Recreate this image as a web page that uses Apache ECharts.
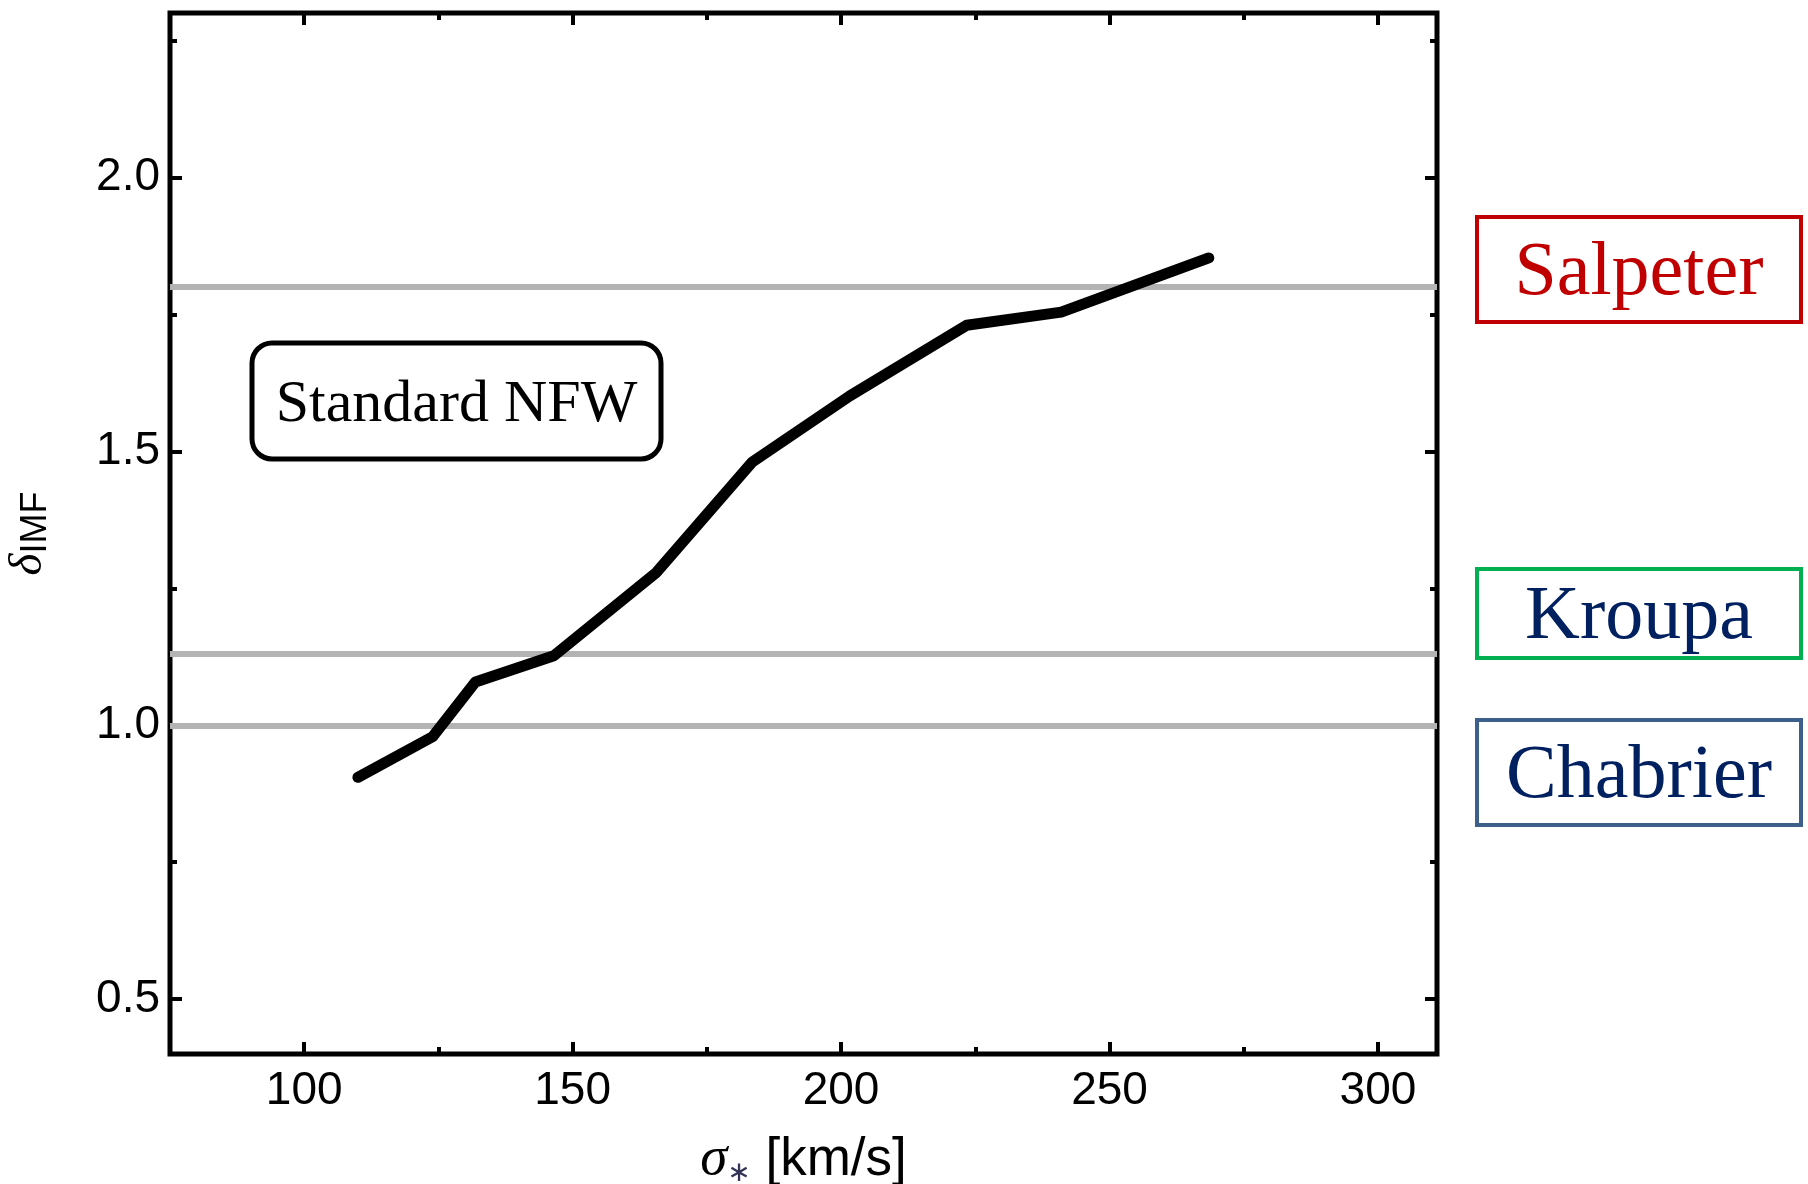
<!DOCTYPE html>
<html>
<head>
<meta charset="utf-8">
<title>IMF mismatch parameter vs velocity dispersion</title>
<script src="https://cdn.jsdelivr.net/npm/echarts@6/dist/echarts.min.js"></script>
<style>
  html, body { margin: 0; padding: 0; background: #fff; }
  #chart { width: 1808px; height: 1184px; }
</style>
</head>
<body>
<div id="chart"></div>
<script>
// Velocity dispersion sigma_* [km/s] and IMF mismatch parameter (standard NFW halo)
const sigmaValues = [110.0, 123.9, 131.9, 146.5, 165.6, 183.4, 201.6, 223.4, 241.0, 268.5];
const deltaValues = [0.905, 0.979, 1.079, 1.127, 1.279, 1.480, 1.601, 1.730, 1.754, 1.853];

// Reference IMF levels
const imfNames  = ['Salpeter', 'Kroupa', 'Chabrier'];
const imfLevels = [1.8, 1.125, 1.0];

// Axis ticks
const xMajorTicks = [100, 150, 200, 250, 300];
const xMinorTicks = [125, 175, 225, 275];
const yMajorTicks = [0.5, 1.0, 1.5, 2.0];
const yMinorTicks = [0.75, 1.25, 1.75, 2.25];

const X_MIN = 75, X_MAX = 311;
const Y_MIN = 0.4, Y_MAX = 2.3;

const chart = echarts.init(document.getElementById('chart'), null, { renderer: 'canvas' });

const tickStyle = { color: '#000', width: 4 };
const labelFont = { fontFamily: 'Liberation Sans', fontSize: 46, color: '#000' };

function xAxisDef(position, ticks, len, withLabels) {
  return {
    type: 'value', position: position, min: X_MIN, max: X_MAX,
    axisLine: { show: false },
    splitLine: { show: false },
    axisTick: { show: true, inside: true, length: len, lineStyle: tickStyle, customValues: ticks },
    axisLabel: withLabels
      ? Object.assign({ show: true, margin: 14, customValues: ticks }, labelFont)
      : { show: false }
  };
}
function yAxisDef(position, ticks, len, withLabels) {
  return {
    type: 'value', position: position, min: Y_MIN, max: Y_MAX,
    axisLine: { show: false },
    splitLine: { show: false },
    axisTick: { show: true, inside: true, length: len, lineStyle: tickStyle, customValues: ticks },
    axisLabel: withLabels
      ? Object.assign({ show: true, margin: 10, customValues: ticks,
          formatter: v => v.toFixed(1) }, labelFont)
      : { show: false }
  };
}

const xBottom = xAxisDef('bottom', xMajorTicks, 12, true);
xBottom.name = '{s|σ}{a|∗}{t| [km/s]}';
xBottom.nameLocation = 'middle';
xBottom.nameGap = 78;
xBottom.nameTextStyle = {
  color: '#000',
  rich: {
    s: { fontFamily: 'Liberation Serif', fontStyle: 'italic', fontSize: 55, lineHeight: 56, color: '#000' },
    a: { fontFamily: 'DejaVu Sans', fontSize: 28, lineHeight: 14, verticalAlign: 'bottom', color: '#333355' },
    t: { fontFamily: 'Liberation Sans', fontSize: 53, lineHeight: 56, color: '#000' }
  }
};

const yLeft = yAxisDef('left', yMajorTicks, 12, true);
yLeft.name = '{d|δ}{s|IMF}';
yLeft.nameLocation = 'middle';
yLeft.nameGap = 116;
yLeft.nameTextStyle = {
  color: '#000',
  rich: {
    d: { fontFamily: 'Liberation Serif', fontStyle: 'italic', fontSize: 47, lineHeight: 50, color: '#000' },
    s: { fontFamily: 'Liberation Sans', fontSize: 36, lineHeight: 22, verticalAlign: 'bottom', color: '#000' }
  }
};

// Model curve as [sigma, delta] pairs
const curveData = sigmaValues.map((s, i) => [s, deltaValues[i]]);

// Framed labels for the IMF reference lines
const imfBoxes = [
  { name: imfNames[0], x: 1477, y: 217, w: 324, h: 105, stroke: '#C00000', fill: '#C00000', ty: 274 },
  { name: imfNames[1], x: 1477, y: 569, w: 324, h: 89,  stroke: '#00B050', fill: '#002060', ty: 618 },
  { name: imfNames[2], x: 1477, y: 720, w: 324, h: 105, stroke: '#3D5F8C', fill: '#002060', ty: 777 }
];

const graphics = [
  {
    type: 'group',
    children: [
      { type: 'rect', shape: { x: 252, y: 343, width: 409, height: 116, r: 20 },
        style: { fill: '#fff', stroke: '#000', lineWidth: 5 } },
      { type: 'text', x: 456.5, y: 405,
        style: { text: 'Standard NFW', fontFamily: 'Liberation Serif', fontSize: 60, fill: '#000',
                 align: 'center', verticalAlign: 'middle', textAlign: 'center', textVerticalAlign: 'middle' } }
    ]
  }
].concat(imfBoxes.map(b => ({
  type: 'group',
  children: [
    { type: 'rect', shape: { x: b.x, y: b.y, width: b.w, height: b.h },
      style: { fill: '#fff', stroke: b.stroke, lineWidth: 4 } },
    { type: 'text', x: b.x + b.w / 2, y: b.ty,
      style: { text: b.name, fontFamily: 'Liberation Serif', fontSize: 76, fill: b.fill,
               align: 'center', verticalAlign: 'middle', textAlign: 'center', textVerticalAlign: 'middle' } }
  ]
})));

chart.setOption({
  animation: false,
  backgroundColor: '#fff',
  grid: {
    left: 170, right: 371, top: 13, bottom: 130,
    containLabel: false,
    outerBoundsMode: 'none',
    show: true, borderColor: '#000', borderWidth: 5, backgroundColor: 'transparent'
  },
  xAxis: [
    xBottom,
    xAxisDef('bottom', xMinorTicks, 7, false),
    xAxisDef('top', xMajorTicks, 12, false),
    xAxisDef('top', xMinorTicks, 7, false)
  ],
  yAxis: [
    yLeft,
    yAxisDef('left', yMinorTicks, 7, false),
    yAxisDef('right', yMajorTicks, 12, false),
    yAxisDef('right', yMinorTicks, 7, false)
  ],
  series: [
    {
      name: 'IMF levels',
      type: 'line',
      data: [],
      z: 1,
      silent: true,
      markLine: {
        silent: true,
        symbol: 'none',
        label: { show: false },
        lineStyle: { color: '#B3B3B3', width: 6, type: 'solid' },
        data: imfLevels.map((v, i) => ({ name: imfNames[i], yAxis: v }))
      }
    },
    {
      name: 'Standard NFW',
      type: 'line',
      data: curveData,
      z: 5,
      showSymbol: false,
      symbol: 'none',
      lineStyle: { color: '#000', width: 11, cap: 'round', join: 'round' }
    }
  ],
  graphic: graphics
});
</script>
</body>
</html>
